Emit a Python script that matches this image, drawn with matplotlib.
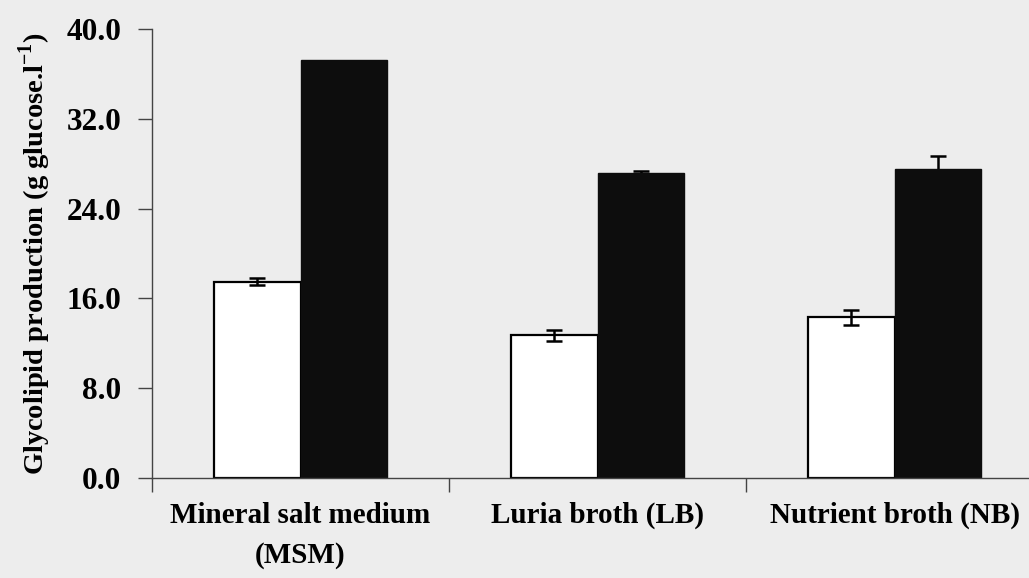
import matplotlib
matplotlib.use("Agg")
import matplotlib.pyplot as plt
import numpy as np

categories = ["Mineral salt medium\n(MSM)", "Luria broth (LB)", "Nutrient broth (NB)"]
white_vals = [17.5, 12.7, 14.3]
white_err = [0.35, 0.5, 0.65]
black_vals = [37.2, 27.2, 27.5]
black_err = [0.0, 0.12, 1.15]
yticks = [0, 8, 16, 24, 32, 40]

plt.rcParams['font.family'] = ['Liberation Serif', 'DejaVu Serif']
plt.rcParams['font.weight'] = 'bold'
plt.rcParams['mathtext.fontset'] = 'custom'
plt.rcParams['mathtext.rm'] = 'Liberation Serif:bold'
plt.rcParams['mathtext.bf'] = 'Liberation Serif:bold'

bg = '#ededed'
fig = plt.figure(figsize=(10.29, 5.78), dpi=100, facecolor=bg)
ax = fig.add_axes([152/1029, 100/578, 891/1029, 449/578])
ax.set_facecolor(bg)

x = np.arange(len(categories))
w = 0.29
ax.bar(x - w/2, white_vals, w, color='white', edgecolor='black', linewidth=1.6, zorder=2)
ax.bar(x + w/2, black_vals, w, color='#0d0d0d', edgecolor='#0d0d0d', linewidth=1.0, zorder=2)
ax.errorbar(x - w/2, white_vals, yerr=white_err, fmt='none', ecolor='black',
            elinewidth=1.8, capsize=5.8, capthick=1.8, zorder=3)
bx = [xi + w/2 for xi, e in zip(x, black_err) if e > 0]
bv = [v for v, e in zip(black_vals, black_err) if e > 0]
be = [e for e in black_err if e > 0]
ax.errorbar(bx, bv, yerr=be, fmt='none', ecolor='black',
            elinewidth=1.8, capsize=5.8, capthick=1.8, zorder=1)

ax.set_xlim(-0.5, 2.5)
ax.set_ylim(0, 40)
ax.set_yticks(yticks)
ax.set_yticklabels([f"{v:.1f}" for v in yticks], fontsize=22.5, fontweight='bold')
ax.set_xticks([-0.5, 0.5, 1.5, 2.5])
ax.set_xticklabels([])
ax.set_xticks(x, minor=True)
ax.set_xticklabels(categories, minor=True, fontsize=21, fontweight='bold', linespacing=1.6)
ax.tick_params(axis='x', which='minor', length=0, pad=17)
ax.tick_params(axis='x', which='major', length=10, width=1, color='#444444', direction='out')
ax.tick_params(axis='y', length=10, width=1, color='#444444', direction='out', pad=12)

for s in ['top', 'right']:
    ax.spines[s].set_visible(False)
for s in ['left', 'bottom']:
    ax.spines[s].set_color('#444444')
    ax.spines[s].set_linewidth(1.0)

ax.set_ylabel("Glycolipid production (g glucose.l$^{\\mathregular{-1}}$)", fontsize=20.5,
              fontweight='bold', labelpad=10)

fig.savefig("out.png", dpi=100, facecolor=bg)
